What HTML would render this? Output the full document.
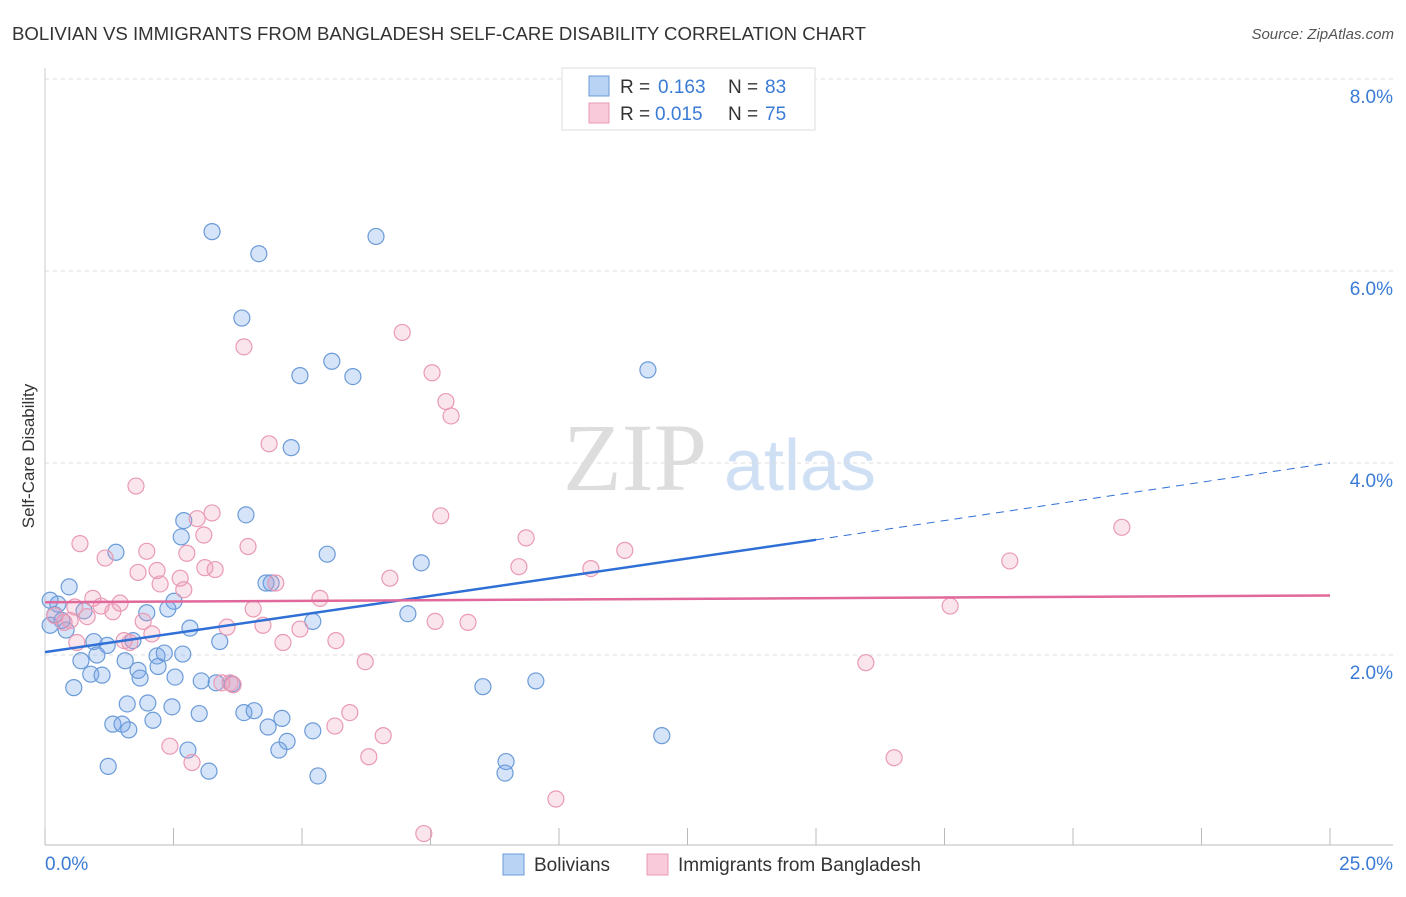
<!DOCTYPE html>
<html><head><meta charset="utf-8"><style>
body{margin:0;background:#fff;font-family:"Liberation Sans",sans-serif}
</style></head><body>
<svg width="1406" height="892" viewBox="0 0 1406 892" id="chart">
<text x="12" y="40" font-size="18" fill="#333" textLength="854" lengthAdjust="spacingAndGlyphs">BOLIVIAN VS IMMIGRANTS FROM BANGLADESH SELF-CARE DISABILITY CORRELATION CHART</text>
<text x="1394" y="39" font-size="15" fill="#555" font-style="italic" text-anchor="end">Source: ZipAtlas.com</text>
<text x="34" y="456" font-size="17" fill="#333" text-anchor="middle" transform="rotate(-90 34 456)">Self-Care Disability</text>
<g><text x="635" y="490" font-size="96" fill="#ddd" font-family="Liberation Serif,serif" text-anchor="middle">ZIP</text><text x="800" y="490" font-size="72" fill="#cfe0f5" text-anchor="middle">atlas</text></g>
<g id="grid"></g><g id="pts"></g><g id="lines"></g>
<g>
<rect x="562" y="68" width="253" height="62" fill="#fff" stroke="#ddd"/>
<rect x="589" y="76" width="20" height="20" fill="#b9d3f5" stroke="#6b9bd8"/>
<text x="620" y="93" font-size="19" fill="#333">R =</text><text x="658" y="93" font-size="19" fill="#3a7bd5">0.163</text>
<text x="728" y="93" font-size="19" fill="#333">N =</text><text x="765" y="93" font-size="19" fill="#3a7bd5">83</text>
<rect x="589" y="103" width="20" height="20" fill="#f9cad9" stroke="#e99ab5"/>
<text x="620" y="120" font-size="19" fill="#333">R =</text><text x="655" y="120" font-size="19" fill="#3a7bd5">0.015</text>
<text x="728" y="120" font-size="19" fill="#333">N =</text><text x="765" y="120" font-size="19" fill="#3a7bd5">75</text>
</g>
<g>
<rect x="503" y="854" width="21" height="21" fill="#b9d3f5" stroke="#6b9bd8"/>
<text x="534" y="871" font-size="19" fill="#333">Bolivians</text>
<rect x="647" y="854" width="21" height="21" fill="#f9cad9" stroke="#e99ab5"/>
<text x="678" y="871" font-size="19" fill="#333">Immigrants from Bangladesh</text>
</g>
<text x="45" y="870" font-size="19" fill="#3a7bd5">0.0%</text>
<text x="1393" y="870" font-size="19" fill="#3a7bd5" text-anchor="end">25.0%</text>
</svg>
<script>
const yTicks=[8,6,4,2];
const yTickLabels=["8.0%","6.0%","4.0%","2.0%"];
const xTicks=[0,2.5,5,7.5,10,12.5,15,17.5,20,22.5,25];
const blueX=[3.25,4.16,6.44,3.83,5.58,4.96,5.99,11.73,4.79,3.91,2.70,2.65,1.38,5.49,7.32,0.47,4.30,4.40,0.25,0.76,1.98,2.51,2.39,7.06,5.21,0.41,2.82,0.95,1.21,1.71,3.40,1.01,2.18,2.32,2.68,0.70,1.56,1.81,2.20,0.89,1.11,1.85,2.53,0.56,3.04,3.33,3.64,8.52,9.55,1.60,2.00,2.47,3.00,3.87,4.07,4.61,1.32,1.50,2.10,1.63,4.34,5.21,4.71,4.55,2.78,12.00,8.97,8.95,1.23,3.19,5.31,0.10,0.19,0.33,0.10];
const blueY=[6.41,6.18,6.36,5.51,5.06,4.91,4.90,4.97,4.16,3.46,3.40,3.23,3.07,3.05,2.96,2.71,2.75,2.75,2.53,2.46,2.44,2.56,2.48,2.43,2.35,2.26,2.28,2.14,2.10,2.15,2.14,2.00,1.99,2.02,2.01,1.94,1.94,1.84,1.88,1.80,1.79,1.76,1.77,1.66,1.73,1.71,1.70,1.67,1.73,1.49,1.50,1.46,1.39,1.40,1.42,1.34,1.28,1.28,1.32,1.22,1.25,1.21,1.10,1.01,1.01,1.16,0.89,0.77,0.84,0.79,0.74,2.57,2.42,2.36,2.31];
const pinkX=[6.95,3.87,7.53,7.80,7.90,4.36,1.77,7.70,3.25,2.96,0.68,1.17,1.98,3.09,3.95,2.76,9.36,11.28,20.95,18.77,1.81,2.18,2.63,3.11,3.31,6.71,2.24,2.70,4.49,9.22,10.62,0.93,1.46,1.09,5.35,0.58,0.82,1.32,4.05,17.61,1.91,3.54,4.24,4.96,7.59,8.23,2.08,1.54,1.65,5.66,0.62,4.63,0.19,0.37,0.49,6.23,15.97,3.44,3.66,5.93,5.64,6.58,2.43,2.86,6.30,16.52,9.94,7.37,3.60];
const pinkY=[5.36,5.21,4.94,4.64,4.49,4.20,3.76,3.45,3.48,3.42,3.16,3.01,3.08,3.25,3.13,3.06,3.22,3.09,3.33,2.98,2.86,2.88,2.80,2.91,2.89,2.80,2.74,2.68,2.75,2.92,2.90,2.59,2.54,2.51,2.59,2.50,2.40,2.45,2.48,2.51,2.35,2.29,2.31,2.27,2.35,2.34,2.22,2.15,2.13,2.15,2.13,2.13,2.41,2.34,2.36,1.93,1.92,1.71,1.69,1.40,1.26,1.16,1.05,0.88,0.94,0.93,0.50,0.14,1.71];
const blueTrend=[2.03,3.2,4.0]; // at x=0,15,25
const pinkTrend=[2.55,2.62];
const NS="http://www.w3.org/2000/svg";
const sx=v=>45+v/25*1285, sy=v=>847-v*96;
function mk(t,a,p){const e=document.createElementNS(NS,t);for(const k in a)e.setAttribute(k,a[k]);p.appendChild(e);return e;}
const grid=document.getElementById('grid'),pts=document.getElementById('pts'),lines=document.getElementById('lines');
yTicks.forEach((t,i)=>{
 const l=mk('line',{x1:45,x2:1393,y1:sy(t),y2:sy(t),stroke:'#ddd','stroke-dasharray':'4,4'},grid);
 
 
 const tx=mk('text',{x:1393,y:sy(t)+24,'font-size':19,fill:'#3a7bd5','text-anchor':'end'},grid);
 tx.textContent=yTickLabels[i];
 
 
});
const ax=mk('line',{x1:45,x2:1393,y1:845,y2:845,stroke:'#bbb'},grid);


const yax=mk('line',{x1:45,x2:45,y1:68,y2:845,stroke:'#ccc'},grid);


xTicks.forEach(t=>{
 const l=mk('line',{x1:sx(t),x2:sx(t),y1:828,y2:845,stroke:'#bbb'},grid);
 
 
});
function dots(X,Y,fill,stroke,name){X.forEach((x,i)=>{
 const c=mk('circle',{cx:sx(x),cy:sy(Y[i]),r:8,fill:fill,stroke:stroke,'stroke-width':1.2},pts);
 
 
});}
dots(blueX,blueY,'rgba(120,165,235,0.3)','#6b9bd8','bolivian-point');
dots(pinkX,pinkY,'rgba(240,150,180,0.25)','#e99ab5','bangladesh-point');
let l1=mk('line',{x1:sx(0),y1:sy(blueTrend[0]),x2:sx(15),y2:sy(blueTrend[1]),stroke:'#2f6fd6','stroke-width':2.5},lines);


let l2=mk('line',{x1:sx(15),y1:sy(blueTrend[1]),x2:sx(25),y2:sy(blueTrend[2]),stroke:'#2f6fd6','stroke-width':1,'stroke-dasharray':'8,6'},lines);


let l3=mk('line',{x1:sx(0),y1:sy(pinkTrend[0]),x2:sx(25),y2:sy(pinkTrend[1]),stroke:'#e0689a','stroke-width':2.5},lines);


</script>
</body></html>
